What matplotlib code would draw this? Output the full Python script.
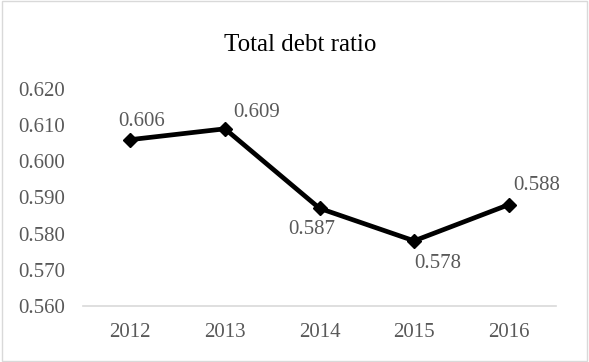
import matplotlib.pyplot as plt
import matplotlib.patches as patches

# data
years = ["2012", "2013", "2014", "2015", "2016"]
debt_ratio = [0.606, 0.609, 0.587, 0.578, 0.588]
y_ticks = [0.560, 0.570, 0.580, 0.590, 0.600, 0.610, 0.620]
# label offsets in pixels (dx, dy)
label_offsets = [(11, 18), (32, 16), (-8, -21), (24, -23), (28, 19)]

plt.rcParams['font.family'] = ['Liberation Serif', 'DejaVu Serif']
text_color = '#595959'

fig = plt.figure(figsize=(5.89, 3.62), dpi=100)
ax = fig.add_axes([0.141, 0.155, 0.803, 0.599])

x = list(range(len(years)))
ax.plot(x, debt_ratio, color='black', linewidth=3.4, marker='D', markersize=7,
        solid_joinstyle='miter')

for xi, v, (dx, dy) in zip(x, debt_ratio, label_offsets):
    ax.annotate(f"{v:.3f}", (xi, v), xytext=(dx, dy), textcoords='offset pixels',
                ha='center', va='center', fontsize=15, color=text_color)

ax.set_xlim(-0.5, len(years) - 0.5)
ax.set_ylim(0.560, 0.620)
ax.set_xticks(x)
ax.set_xticklabels(years, fontsize=15, color=text_color)
ax.set_yticks(y_ticks)
ax.set_yticklabels([f"{t:.3f}" for t in y_ticks], fontsize=15, color=text_color)
ax.tick_params(axis='y', length=0, pad=13)
ax.tick_params(axis='x', length=0, pad=12)

for s in ['top', 'right', 'left']:
    ax.spines[s].set_visible(False)
ax.spines['bottom'].set_color('#d9d9d9')
ax.spines['bottom'].set_linewidth(1.2)

fig.text(0.51, 0.875, "Total debt ratio", ha='center', va='center',
         fontsize=18, color='black')

# outer chart border
border = patches.Rectangle((0.003, 0.004), 0.994, 0.992, transform=fig.transFigure,
                           fill=False, edgecolor='#d9d9d9', linewidth=1)
fig.patches.append(border)

fig.savefig("out.png", dpi=100)
